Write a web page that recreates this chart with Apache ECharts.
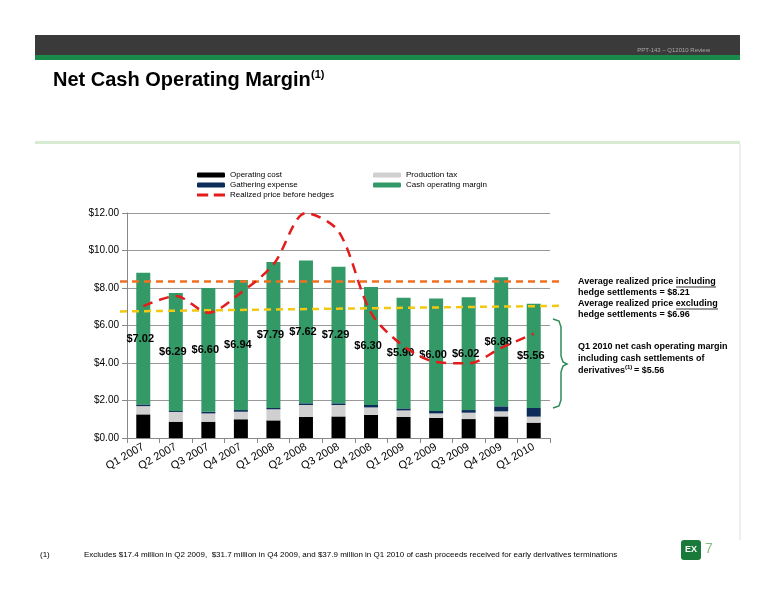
<!DOCTYPE html>
<html><head><meta charset="utf-8">
<script src="https://cdn.jsdelivr.net/npm/echarts@6/dist/echarts.min.js"></script>
<style>body{margin:0;background:#fff}#c{width:776px;height:600px}</style>
</head><body><div id="c"></div>
<script>
const categories=['Q1 2007','Q2 2007','Q3 2007','Q4 2007','Q1 2008','Q2 2008','Q3 2008','Q4 2008','Q1 2009','Q2 2009','Q3 2009','Q4 2009','Q1 2010'];
const operatingCost=[1.26,0.87,0.87,1.00,0.94,1.12,1.15,1.23,1.12,1.07,1.01,1.15,0.82];
const productionTax=[0.44,0.52,0.44,0.40,0.59,0.64,0.61,0.40,0.35,0.24,0.34,0.27,0.32];
const gatheringExpense=[0.09,0.05,0.09,0.09,0.07,0.09,0.09,0.13,0.11,0.13,0.14,0.27,0.46];
const cashMargin=[7.02,6.29,6.60,6.94,7.79,7.62,7.29,6.30,5.90,6.00,6.02,6.88,5.56];
const realizedBeforeHedges=[7.03,7.57,6.68,7.75,9.25,12.0,11.03,6.68,4.9,4.05,3.98,4.81,5.56];
const avgIncluding=8.37, avgExcludingStart=6.75, avgExcludingEnd=7.05;

const ch=echarts.init(document.getElementById('c'));
const F='Liberation Sans, Arial, sans-serif';
const bar=(name,data,color,label)=>({name,type:'bar',stack:'s',data,barWidth:14,itemStyle:{color},
  label:label?{show:true,position:'inside',formatter:p=>'$'+p.value.toFixed(2),color:'#000',fontWeight:'bold',fontSize:11,fontFamily:F,offset:[-3,0]}:{show:false},z:2});
ch.setOption({
  animation:false,
  grid:{left:127,right:226,top:213,bottom:162},
  legend:[
    {left:192,top:166,orient:'vertical',itemWidth:28,itemHeight:5,itemGap:2,textStyle:{fontSize:8,fontFamily:F,color:'#000'},
     data:['Operating cost','Gathering expense',{name:'Realized price before hedges',icon:'path://M0,0H8V2H0Z M12,0H20V2H12Z'}]},
    {left:368,top:166,orient:'vertical',itemWidth:28,itemHeight:5,itemGap:2,textStyle:{fontSize:8,fontFamily:F,color:'#000'},
     data:['Production tax','Cash operating margin']}
  ],
  xAxis:{type:'category',data:categories,axisTick:{show:true},axisLine:{lineStyle:{color:'#888'}},
    axisLabel:{rotate:30,interval:0,fontSize:11,fontFamily:F,color:'#000',margin:8}},
  yAxis:{type:'value',min:0,max:12,interval:2,axisLine:{show:true,lineStyle:{color:'#888'}},axisTick:{show:true},
    splitLine:{lineStyle:{color:'#999'}},axisLabel:{formatter:v=>'$'+v.toFixed(2),fontSize:10,fontFamily:F,color:'#000'}},
  series:[
    bar('Operating cost',operatingCost,'#000'),
    bar('Production tax',productionTax,'#d0d0d0'),
    bar('Gathering expense',gatheringExpense,'#0d2c5a'),
    Object.assign(bar('Cash operating margin',cashMargin,'#339966',true),{
      markLine:{silent:true,symbol:'none',label:{show:false},data:[
        [{x:120,yAxis:avgIncluding,lineStyle:{color:'#f07020',type:[7,5],width:2.5}},{x:562,yAxis:avgIncluding}],
        [{x:120,yAxis:avgExcludingStart,lineStyle:{color:'#f2c811',type:[7,5],width:2.5}},{x:562,yAxis:avgExcludingEnd}]
      ]}}),
    {name:'Realized price before hedges',type:'line',data:realizedBeforeHedges,smooth:0.3,symbol:'none',
     lineStyle:{color:'#e41c1c',width:2.5,type:[10,7]},itemStyle:{color:'#e41c1c'},z:5}
  ],
  graphic:[
    {type:'rect',shape:{x:35,y:35,width:705,height:20},style:{fill:'#3a3a3a'}},
    {type:'rect',shape:{x:35,y:55,width:705,height:5},style:{fill:'#1a8a4a'}},
    {type:'text',x:710,y:47,style:{text:'PPT-143 – Q12010 Review',fontSize:6,fill:'#aaa',align:'right',fontFamily:F}},
    {type:'text',x:53,y:70,style:{text:'Net Cash Operating Margin',fontSize:20,fontWeight:'bold',fill:'#000',fontFamily:F}},
    {type:'text',x:311,y:69,style:{text:'(1)',fontSize:11,fontWeight:'bold',fill:'#000',fontFamily:F}},
    {type:'rect',shape:{x:35,y:141,width:705,height:3},style:{fill:'#d6ebd2'}},
    {type:'line',shape:{x1:740,y1:144,x2:740,y2:540},style:{stroke:'#ddd'}},
    {type:'text',x:578,y:276,style:{text:'Average realized price including\nhedge settlements = $8.21',fontSize:9,fontWeight:'bold',fill:'#000',lineHeight:11,fontFamily:F}},
    {type:'line',shape:{x1:676,y1:287,x2:716,y2:287},style:{stroke:'#000',lineWidth:0.8}},
    {type:'text',x:578,y:298,style:{text:'Average realized price excluding\nhedge settlements = $6.96',fontSize:9,fontWeight:'bold',fill:'#000',lineHeight:11,fontFamily:F}},
    {type:'line',shape:{x1:676,y1:309,x2:718,y2:309},style:{stroke:'#000',lineWidth:0.8}},
    {type:'text',x:578,y:341,style:{text:'Q1 2010 net cash operating margin\nincluding cash settlements of\nderivatives',fontSize:9,fontWeight:'bold',fill:'#000',lineHeight:12,fontFamily:F}},
    {type:'text',x:625,y:364,style:{text:'(1)',fontSize:6,fontWeight:'bold',fill:'#000',fontFamily:F}},
    {type:'text',x:634,y:366,style:{text:'= $5.56',fontSize:9,fontWeight:'bold',fill:'#000',fontFamily:F}},
    {type:'polyline',shape:{points:[[553,319],[559,321],[561,327],[561,356],[563,362],[567,364],[563,366],[561,372],[561,400],[559,406],[553,408]]},style:{stroke:'#2e8b57',fill:'none',lineWidth:1.5}},
    {type:'text',x:40,y:551,style:{text:'(1)',fontSize:8,fill:'#000',fontFamily:F}},
    {type:'text',x:84,y:551,style:{text:'Excludes $17.4 million in Q2 2009,  $31.7 million in Q4 2009, and $37.9 million in Q1 2010 of cash proceeds received for early derivatives terminations',fontSize:8,fill:'#000',fontFamily:F}},
    {type:'rect',shape:{x:681,y:540,width:20,height:20,r:3},style:{fill:'#1a7a3a'}},
    {type:'text',x:691,y:545,style:{text:'EX',fontSize:9,fontWeight:'bold',fill:'#fff',align:'center',fontFamily:F}},
    {type:'text',x:705,y:542,style:{text:'7',fontSize:14,fill:'#7fbf7f',fontFamily:F}}
  ]
});
</script></body></html>
